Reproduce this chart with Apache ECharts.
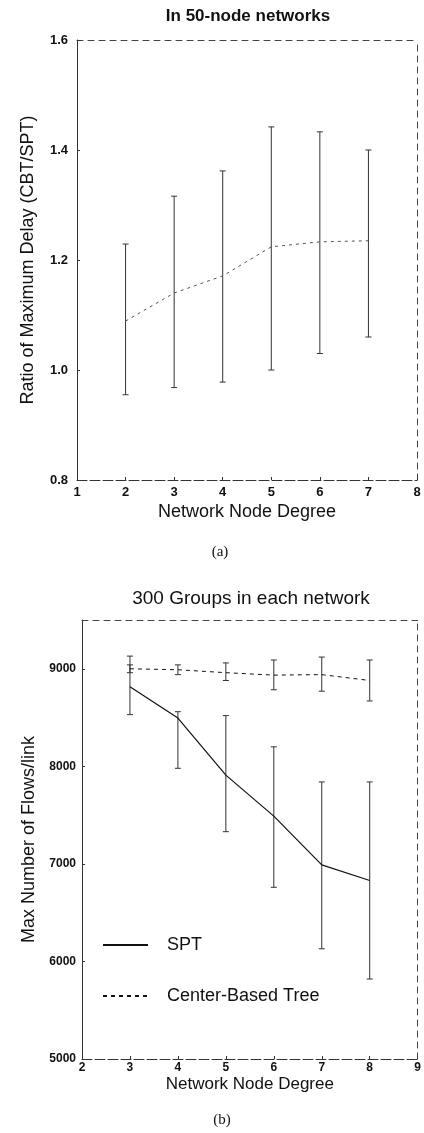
<!DOCTYPE html>
<html>
<head>
<meta charset="utf-8">
<script src="https://cdn.jsdelivr.net/npm/echarts@6/dist/echarts.min.js"></script>
<style>
  html, body { margin: 0; padding: 0; background: #fff; }
  #chart { width: 424px; height: 1133px; }
</style>
</head>
<body>
<div id="chart"></div>
<script>
// (a) ratio of max delay, 50-node networks
const degreesA = [2, 3, 4, 5, 6, 7]
const ratioMean = [1.089, 1.14, 1.171, 1.224, 1.233, 1.235]
const ratioLow = [0.955, 0.968, 0.978, 1.0, 1.03, 1.06]
const ratioHigh = [1.229, 1.316, 1.362, 1.442, 1.433, 1.40]

// (b) max flows per link, 300 groups
const degreesB = [3, 4, 5, 6, 7, 8]
const sptFlows = [8815, 8495, 7910, 7490, 6990, 6830]
const sptLow = [8530, 7980, 7330, 6760, 6130, 5820]
const sptHigh = [9040, 8560, 8520, 8200, 7840, 7840]
const cbtFlows = [9000, 8990, 8960, 8935, 8940, 8880]
const cbtLow = [8960, 8940, 8880, 8785, 8770, 8670]
const cbtHigh = [9130, 9040, 9060, 9090, 9120, 9090]

const font = 'Liberation Sans, Arial, sans-serif'
const ink = '#111'

const chart = echarts.init(document.getElementById('chart'), null, { renderer: 'canvas' })

// vertical error bar with small caps
function errorBar(params, api) {
    const x = api.value(0)
    const lo = api.coord([x, api.value(1)])
    const hi = api.coord([x, api.value(2)])
    const c = 3
    const style = { stroke: '#333', lineWidth: 1 }
    return {
        type: 'group',
        children: [
            { type: 'line', shape: { x1: lo[0], y1: lo[1], x2: hi[0], y2: hi[1] }, style: style },
            { type: 'line', shape: { x1: lo[0] - c, y1: lo[1], x2: lo[0] + c, y2: lo[1] }, style: style },
            { type: 'line', shape: { x1: hi[0] - c, y1: hi[1], x2: hi[0] + c, y2: hi[1] }, style: style }
        ]
    }
}

function zip3(a, b, c) {
    return a.map((v, i) => [v, b[i], c[i]])
}

const labelStyle = { color: ink, fontFamily: font, fontWeight: 'bold' }
const nameStyle = { color: ink, fontFamily: font, fontSize: 18 }
const frameLine = { lineStyle: { color: '#444', width: 1, type: [6, 5] } }

const option = {
    animation: false,
    title: [
        { text: 'In 50-node networks', left: 248, top: 8, textAlign: 'center', padding: 0,
          textStyle: { color: ink, fontFamily: font, fontSize: 17, fontWeight: 'bold' } },
        { text: '(a)', left: 220, top: 545, textAlign: 'center', padding: 0,
          textStyle: { color: ink, fontFamily: 'Liberation Serif, serif', fontSize: 15, fontWeight: 'normal' } },
        { text: '300 Groups in each network', left: 251, top: 589, textAlign: 'center', padding: 0,
          textStyle: { color: ink, fontFamily: font, fontSize: 19, fontWeight: 'normal' } },
        { text: '(b)', left: 222, top: 1113, textAlign: 'center', padding: 0,
          textStyle: { color: ink, fontFamily: 'Liberation Serif, serif', fontSize: 15, fontWeight: 'normal' } }
    ],
    legend: {
        data: ['SPT', 'Center-Based Tree'],
        orient: 'vertical',
        left: 102,
        top: 936,
        itemWidth: 45,
        itemHeight: 10,
        itemGap: 33,
        padding: 0,
        itemStyle: { opacity: 0 },
        textStyle: { color: ink, fontFamily: font, fontSize: 18, padding: [0, 0, 0, 14] }
    },
    grid: [
        { left: 77, top: 40, width: 340, height: 440 },
        { left: 82, top: 620, width: 338, height: 439 }
    ],
    xAxis: [
        {
            gridIndex: 0, type: 'value', min: 1, max: 8, interval: 1,
            name: 'Network Node Degree', nameLocation: 'middle', nameGap: 23, nameTextStyle: nameStyle,
            axisLine: { lineStyle: { color: '#333', width: 1, type: [10, 3] } },
            axisTick: { inside: true, length: 3, lineStyle: { color: '#333' } },
            axisLabel: Object.assign({ fontSize: 13, margin: 6 }, labelStyle),
            splitLine: { show: false }
        },
        {
            gridIndex: 0, type: 'value', min: 1, max: 8, interval: 1, position: 'top',
            axisLine: frameLine, axisTick: { show: false }, axisLabel: { show: false }, splitLine: { show: false }
        },
        {
            gridIndex: 1, type: 'value', min: 2, max: 9, interval: 1,
            name: 'Network Node Degree', nameLocation: 'middle', nameGap: 17, nameTextStyle: Object.assign({}, nameStyle, { fontSize: 17 }),
            axisLine: { lineStyle: { color: '#333', width: 1, type: [10, 3] } },
            axisTick: { inside: true, length: 3, lineStyle: { color: '#333' } },
            axisLabel: Object.assign({ fontSize: 12, margin: 3 }, labelStyle),
            splitLine: { show: false }
        },
        {
            gridIndex: 1, type: 'value', min: 2, max: 9, interval: 1, position: 'top',
            axisLine: frameLine, axisTick: { show: false }, axisLabel: { show: false }, splitLine: { show: false }
        }
    ],
    yAxis: [
        {
            gridIndex: 0, type: 'value', min: 0.8, max: 1.6, interval: 0.2,
            name: 'Ratio of Maximum Delay (CBT/SPT)', nameLocation: 'middle', nameGap: 40, nameTextStyle: nameStyle,
            axisLine: { lineStyle: { color: '#333', width: 1 } },
            axisTick: { inside: true, length: 3, lineStyle: { color: '#333' } },
            axisLabel: Object.assign({ fontSize: 13, margin: 9, formatter: v => v.toFixed(1) }, labelStyle),
            splitLine: { show: false }
        },
        {
            gridIndex: 0, type: 'value', min: 0.8, max: 1.6, interval: 0.2, position: 'right',
            axisLine: frameLine, axisTick: { show: false }, axisLabel: { show: false }, splitLine: { show: false }
        },
        {
            gridIndex: 1, type: 'value', min: 5000, max: 9500, interval: 1000,
            name: 'Max Number of Flows/link', nameLocation: 'middle', nameGap: 43, nameTextStyle: nameStyle,
            axisLine: { lineStyle: { color: '#333', width: 1 } },
            axisTick: { inside: true, length: 3, lineStyle: { color: '#333' } },
            axisLabel: Object.assign({ fontSize: 12, margin: 6, showMaxLabel: false, formatter: v => String(v) }, labelStyle),
            splitLine: { show: false }
        },
        {
            gridIndex: 1, type: 'value', min: 5000, max: 9500, interval: 1000, position: 'right',
            axisLine: frameLine, axisTick: { show: false }, axisLabel: { show: false }, splitLine: { show: false }
        }
    ],
    series: [
        {
            type: 'custom', xAxisIndex: 0, yAxisIndex: 0, renderItem: errorBar,
            data: zip3(degreesA, ratioLow, ratioHigh), silent: true
        },
        {
            name: 'Ratio', type: 'line', xAxisIndex: 0, yAxisIndex: 0,
            data: degreesA.map((d, i) => [d, ratioMean[i]]),
            symbol: 'none',
            lineStyle: { color: '#555', width: 1, type: [3, 4] }
        },
        {
            type: 'custom', xAxisIndex: 2, yAxisIndex: 2, renderItem: errorBar,
            data: zip3(degreesB, sptLow, sptHigh), silent: true
        },
        {
            type: 'custom', xAxisIndex: 2, yAxisIndex: 2, renderItem: errorBar,
            data: zip3(degreesB, cbtLow, cbtHigh), silent: true
        },
        {
            name: 'SPT', type: 'line', xAxisIndex: 2, yAxisIndex: 2,
            data: degreesB.map((d, i) => [d, sptFlows[i]]),
            symbol: 'none',
            lineStyle: { color: ink, width: 1.2 },
            itemStyle: { color: ink }
        },
        {
            name: 'Center-Based Tree', type: 'line', xAxisIndex: 2, yAxisIndex: 2,
            data: degreesB.map((d, i) => [d, cbtFlows[i]]),
            symbol: 'none',
            lineStyle: { color: ink, width: 1, type: [4, 4] },
            itemStyle: { color: ink }
        }
    ]
}

chart.setOption(option)
</script>
</body>
</html>
